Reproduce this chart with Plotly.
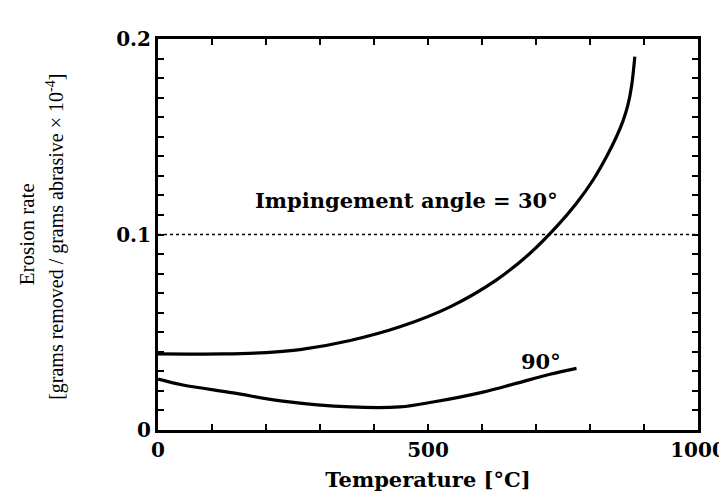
import plotly.graph_objects as go

# ---- data ----
temp_30 = [0, 120, 200, 263, 356, 448, 541, 627, 689, 738, 775, 806, 831, 849, 861, 870, 877, 883]
rate_30 = [0.0389, 0.0389, 0.0396, 0.0411, 0.0458, 0.0528, 0.0630, 0.0768, 0.0904, 0.1040,
           0.1160, 0.1280, 0.1400, 0.1500, 0.1580, 0.1660, 0.1760, 0.1910]

temp_90 = [0, 46, 139, 231, 356, 448, 509, 602, 665, 726, 775]
rate_90 = [0.0260, 0.0230, 0.0190, 0.0148, 0.0118, 0.0118, 0.0143, 0.0194, 0.0240, 0.0285, 0.0315]

x_tick_vals = [0, 100, 200, 300, 400, 500, 600, 700, 800, 900, 1000]
x_tick_text = ["0", "", "", "", "", "500", "", "", "", "", "1000"]
y_tick_vals = [round(i * 0.01, 2) for i in range(21)]
y_tick_text = ["0" if v == 0 else ("0.1" if v == 0.1 else ("0.2" if v == 0.2 else "")) for v in y_tick_vals]

ref_level = 0.1
label_30 = "Impingement angle = 30°"
label_90 = "90°"
x_title = "Temperature [°C]"
y_title_1 = "Erosion rate"
y_title_2 = "[grams removed / grams abrasive × 10<sup>-4</sup>]"

TICKF = dict(family="DejaVu Serif", size=20, color="black", weight="bold")
LABF = dict(family="DejaVu Serif", size=21, color="black", weight="bold")

fig = go.Figure()
fig.add_trace(go.Scatter(x=temp_30, y=rate_30, mode="lines",
                         line=dict(color="black", width=3.2, shape="spline", smoothing=1.0),
                         showlegend=False, hoverinfo="skip"))
fig.add_trace(go.Scatter(x=temp_90, y=rate_90, mode="lines",
                         line=dict(color="black", width=3.2, shape="spline", smoothing=1.0),
                         showlegend=False, hoverinfo="skip"))

fig.add_shape(type="line", xref="paper", x0=0, x1=1, yref="y", y0=ref_level, y1=ref_level,
              line=dict(color="black", width=1.5, dash="dot"))

fig.add_annotation(x=461, y=0.1176, text=label_30, showarrow=False, font=LABF,
                   xanchor="center", yanchor="middle")
fig.add_annotation(x=709, y=0.035, text=label_90, showarrow=False, font=LABF,
                   xanchor="center", yanchor="middle")

fig.add_annotation(xref="paper", yref="paper", x=-0.243, y=0.50, text=y_title_1, showarrow=False,
                   textangle=-90, xanchor="center", yanchor="middle",
                   font=dict(family="Liberation Serif", size=21, color="black"))
fig.add_annotation(xref="paper", yref="paper", x=-0.190, y=0.495, text=y_title_2, showarrow=False,
                   textangle=-90, xanchor="center", yanchor="middle",
                   font=dict(family="Liberation Serif", size=20, color="black"))

fig.update_xaxes(range=[0, 1000], tickvals=x_tick_vals, ticktext=x_tick_text,
                 ticks="inside", ticklen=6, tickwidth=2, tickcolor="black",
                 showline=True, linecolor="black", linewidth=3, mirror="allticks",
                 showgrid=False, zeroline=False, tickfont=TICKF, ticklabeloverflow="allow",
                 automargin=False,
                 title=dict(text=x_title, font=LABF, standoff=12))
fig.update_yaxes(range=[0, 0.2], tickvals=y_tick_vals, ticktext=y_tick_text,
                 ticks="inside", ticklen=6, tickwidth=2, tickcolor="black",
                 showline=True, linecolor="black", linewidth=3, mirror="allticks",
                 showgrid=False, zeroline=False, tickfont=TICKF, automargin=False)

fig.update_layout(width=719, height=497,
                  margin=dict(l=158, r=21, t=39, b=67, autoexpand=False),
                  plot_bgcolor="white", paper_bgcolor="white")

fig.write_html("out.html")
